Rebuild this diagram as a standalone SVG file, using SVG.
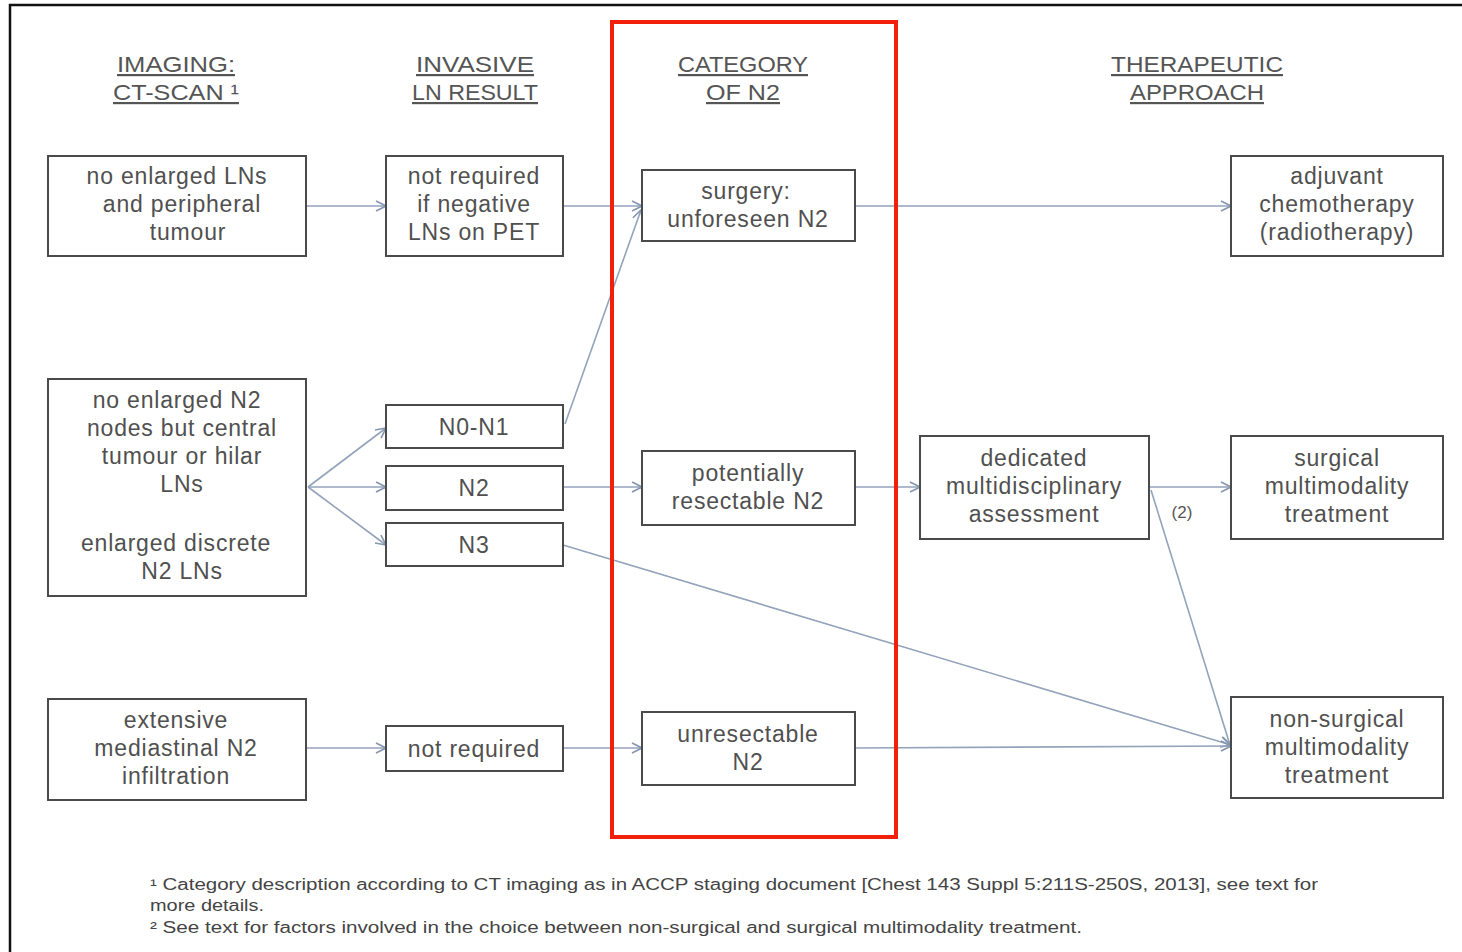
<svg xmlns="http://www.w3.org/2000/svg" width="1462" height="952" viewBox="0 0 1462 952">
<defs>
<marker id="arr" viewBox="0 0 12 12" refX="11" refY="6" markerWidth="12" markerHeight="12" markerUnits="userSpaceOnUse" orient="auto">
<path d="M1,1 L11,6 L1,11" fill="none" stroke="#8496b0" stroke-width="1.6"/>
</marker>
<style>
.box{fill:#fff;stroke:#4a4a4a;stroke-width:2}
.t{font-family:"Liberation Sans",Arial,sans-serif;font-size:23px;fill:#505050;text-anchor:middle;letter-spacing:0.8px}
.h{font-family:"Liberation Sans",Arial,sans-serif;font-size:22px;fill:#555;text-anchor:middle;text-decoration:underline}
.fn{font-family:"Liberation Sans",Arial,sans-serif;font-size:16px;fill:#444}
.c{fill:none;stroke:#93a3ba;stroke-width:1.6;marker-end:url(#arr)}
</style>
</defs>
<rect width="1462" height="952" fill="#fff"/>
<path d="M10,952 V5 H1462" fill="none" stroke="#111" stroke-width="2.5"/>

<g id="headers">
<text class="h" x="176" y="72" textLength="118" lengthAdjust="spacingAndGlyphs">IMAGING:</text>
<text class="h" x="176" y="100" textLength="126" lengthAdjust="spacingAndGlyphs">CT-SCAN ¹</text>
<text class="h" x="475" y="72" textLength="118" lengthAdjust="spacingAndGlyphs">INVASIVE</text>
<text class="h" x="475" y="100" textLength="126" lengthAdjust="spacingAndGlyphs">LN RESULT</text>
<text class="h" x="743" y="72" textLength="130" lengthAdjust="spacingAndGlyphs">CATEGORY</text>
<text class="h" x="743" y="100" textLength="74" lengthAdjust="spacingAndGlyphs">OF N2</text>
<text class="h" x="1197" y="72" textLength="172" lengthAdjust="spacingAndGlyphs">THERAPEUTIC</text>
<text class="h" x="1197" y="100" textLength="134" lengthAdjust="spacingAndGlyphs">APPROACH</text>
</g>

<g id="connectors">
<line class="c" x1="306" y1="206" x2="386" y2="206"/>
<line class="c" x1="563" y1="206" x2="642" y2="206"/>
<line class="c" x1="855" y1="206" x2="1231" y2="206"/>
<line class="c" x1="565" y1="424" x2="641" y2="210"/>
<line class="c" x1="308" y1="487" x2="386" y2="428"/>
<line class="c" x1="308" y1="487" x2="386" y2="487"/>
<line class="c" x1="308" y1="487" x2="386" y2="545"/>
<line class="c" x1="563" y1="487" x2="642" y2="487"/>
<line class="c" x1="855" y1="487" x2="920" y2="487"/>
<line class="c" x1="1149" y1="487" x2="1231" y2="487"/>
<line class="c" x1="1151" y1="490" x2="1230" y2="745"/>
<line class="c" x1="563" y1="545" x2="1231" y2="745"/>
<line class="c" x1="306" y1="748" x2="386" y2="748"/>
<line class="c" x1="563" y1="748" x2="642" y2="748"/>
<line class="c" x1="855" y1="748" x2="1231" y2="746"/>
<text x="1182" y="518" font-family="Liberation Sans,Arial,sans-serif" font-size="17" fill="#555" text-anchor="middle">(2)</text>
</g>

<g id="a1"><rect class="box" x="48" y="156" width="258" height="100"/>
<text class="t" x="177" y="184">no enlarged LNs</text><text class="t" x="182" y="212">and peripheral</text><text class="t" x="188" y="240">tumour</text></g>
<g id="a2"><rect class="box" x="48" y="379" width="258" height="217"/>
<text class="t" x="177" y="408">no enlarged N2</text><text class="t" x="182" y="436">nodes but central</text><text class="t" x="182" y="464">tumour or hilar</text><text class="t" x="182" y="492">LNs</text>
<text class="t" x="176" y="551">enlarged discrete</text><text class="t" x="182" y="579">N2 LNs</text></g>
<g id="a3"><rect class="box" x="48" y="699" width="258" height="101"/>
<text class="t" x="176" y="728">extensive</text><text class="t" x="176" y="756">mediastinal N2</text><text class="t" x="176" y="784">infiltration</text></g>

<g id="b1"><rect class="box" x="386" y="156" width="177" height="100"/>
<text class="t" x="474" y="184">not required</text><text class="t" x="474" y="212">if negative</text><text class="t" x="474" y="240">LNs on PET</text></g>
<g id="b2"><rect class="box" x="386" y="405" width="177" height="43"/>
<text class="t" x="474" y="435">N0-N1</text></g>
<g id="b3"><rect class="box" x="386" y="466" width="177" height="44"/>
<text class="t" x="474" y="496">N2</text></g>
<g id="b4"><rect class="box" x="386" y="523" width="177" height="43"/>
<text class="t" x="474" y="553">N3</text></g>
<g id="b5"><rect class="box" x="386" y="726" width="177" height="45"/>
<text class="t" x="474" y="757">not required</text></g>

<g id="c1"><rect class="box" x="642" y="170" width="213" height="71"/>
<text class="t" x="746" y="199">surgery:</text><text class="t" x="748" y="227">unforeseen N2</text></g>
<g id="c2"><rect class="box" x="642" y="451" width="213" height="74"/>
<text class="t" x="748" y="481">potentially</text><text class="t" x="748" y="509">resectable N2</text></g>
<g id="c3"><rect class="box" x="642" y="712" width="213" height="73"/>
<text class="t" x="748" y="742">unresectable</text><text class="t" x="748" y="770">N2</text></g>

<g id="d1"><rect class="box" x="920" y="436" width="229" height="103"/>
<text class="t" x="1034" y="466">dedicated</text><text class="t" x="1034" y="494">multidisciplinary</text><text class="t" x="1034" y="522">assessment</text></g>

<g id="e1"><rect class="box" x="1231" y="156" width="212" height="100"/>
<text class="t" x="1337" y="184">adjuvant</text><text class="t" x="1337" y="212">chemotherapy</text><text class="t" x="1337" y="240">(radiotherapy)</text></g>
<g id="e2"><rect class="box" x="1231" y="436" width="212" height="103"/>
<text class="t" x="1337" y="466">surgical</text><text class="t" x="1337" y="494">multimodality</text><text class="t" x="1337" y="522">treatment</text></g>
<g id="e3"><rect class="box" x="1231" y="697" width="212" height="101"/>
<text class="t" x="1337" y="727">non-surgical</text><text class="t" x="1337" y="755">multimodality</text><text class="t" x="1337" y="783">treatment</text></g>

<rect x="612" y="22" width="284" height="815" fill="none" stroke="#f0200a" stroke-width="4"/>

<g id="footnotes">
<text class="fn" x="150" y="890" textLength="1168" lengthAdjust="spacingAndGlyphs">¹ Category description according to CT imaging as in ACCP staging document [Chest 143 Suppl 5:211S-250S, 2013], see text for</text>
<text class="fn" x="150" y="911" textLength="114" lengthAdjust="spacingAndGlyphs">more details.</text>
<text class="fn" x="150" y="933" textLength="932" lengthAdjust="spacingAndGlyphs">² See text for factors involved in the choice between non-surgical and surgical multimodality treatment.</text>
</g>
</svg>
